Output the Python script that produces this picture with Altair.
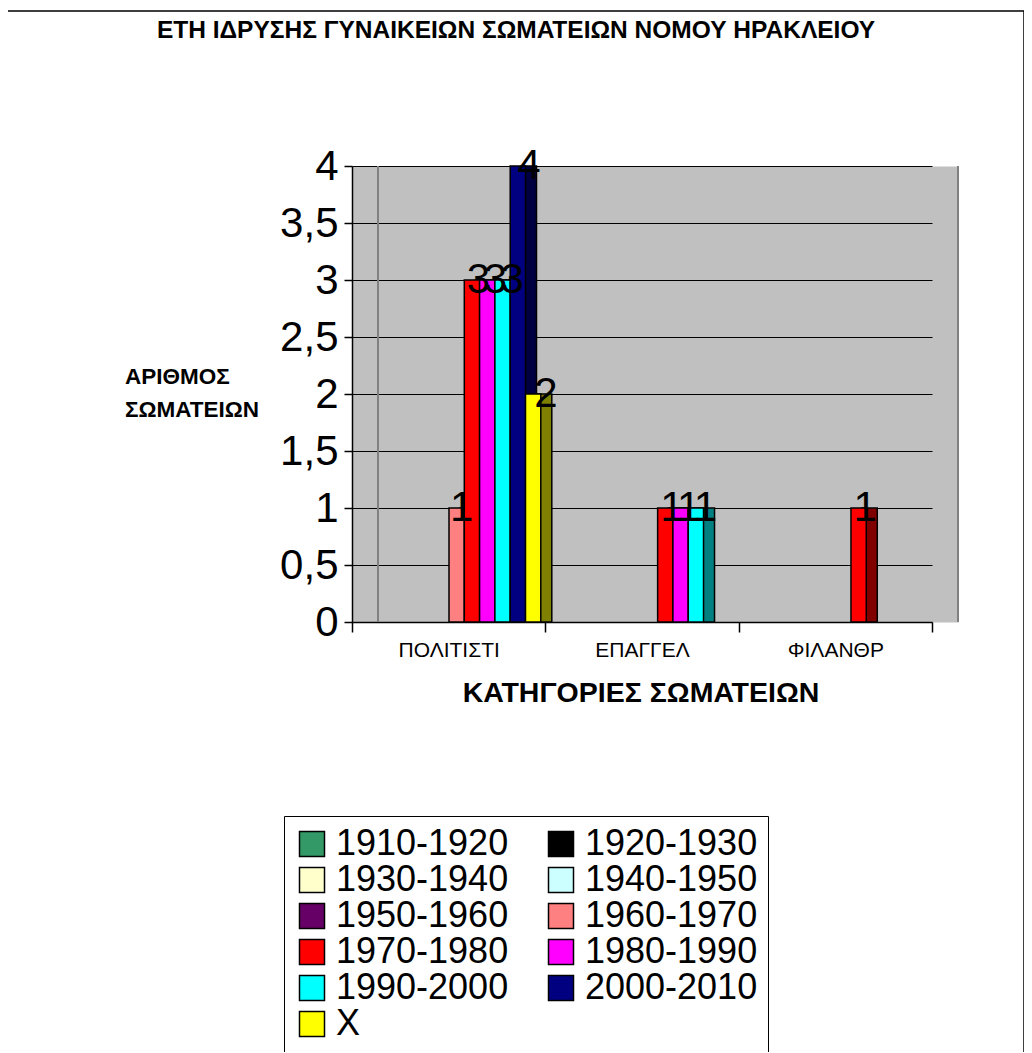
import altair as alt
import pandas as pd

FONT = "Liberation Sans"

title_text = "ΕΤΗ ΙΔΡΥΣΗΣ ΓΥΝΑΙΚΕΙΩΝ ΣΩΜΑΤΕΙΩΝ ΝΟΜΟΥ ΗΡΑΚΛΕΙΟΥ"
y_title = "ΑΡΙΘΜΟΣ\nΣΩΜΑΤΕΙΩΝ"
x_title = "ΚΑΤΗΓΟΡΙΕΣ ΣΩΜΑΤΕΙΩΝ"

categories = ["ΠΟΛΙΤΙΣΤΙ", "ΕΠΑΓΓΕΛ", "ΦΙΛΑΝΘΡ"]
series = ["1910-1920", "1920-1930", "1930-1940", "1940-1950", "1950-1960",
          "1960-1970", "1970-1980", "1980-1990", "1990-2000", "2000-2010", "X"]

# values of each series, per category
politisti = [0, 0, 0, 0, 0, 1, 3, 3, 3, 4, 2]
epaggel = [0, 0, 0, 0, 0, 0, 1, 1, 1, 0, 0]
filanthr = [0, 0, 0, 0, 0, 0, 1, 0, 0, 0, 0]

front_colors = ["#339966", "#000000", "#FFFFCC", "#CCFFFF", "#660066", "#FF8080",
                "#FF0000", "#FF00FF", "#00FFFF", "#000080", "#FFFF00"]
side_colors = ["#1A4D33", "#000000", "#808066", "#668080", "#330033", "#804040",
               "#800000", "#800080", "#008080", "#000040", "#808000"]

y_ticks = [0, 0.5, 1, 1.5, 2, 2.5, 3, 3.5, 4]

rows = []
for cat, vals in zip(categories, [politisti, epaggel, filanthr]):
    for s, v in zip(series, vals):
        rows.append({"cat": cat, "series": s, "value": v})
df = pd.DataFrame(rows)

W, H = 606, 456

x_enc = alt.X(
    "cat:N", sort=categories,
    scale=alt.Scale(domain=categories, range=[0, 580], paddingInner=0, paddingOuter=0),
    axis=alt.Axis(title=None, tickBand="extent", labelFontSize=21, labelFont=FONT,
                  labelColor="black", domainColor="black", tickColor="black",
                  tickSize=10, labelPadding=7, labelAngle=0, grid=False,
                  domainWidth=1.5, tickWidth=1.5),
)
y_enc = alt.Y(
    "value:Q",
    scale=alt.Scale(domain=[0, 4], nice=False, zero=True),
    axis=alt.Axis(title=None, values=y_ticks,
                  labelExpr="replace(format(datum.value, '~g'), '.', ',')",
                  labelFontSize=42, labelFont=FONT, labelColor="black",
                  tickSize=8, labelPadding=6, grid=True, gridColor="black",
                  gridWidth=1, domainColor="black", tickColor="black",
                  domainWidth=1.5, tickWidth=1.5),
)

front_off = alt.XOffset("series:N", sort=series,
                        scale=alt.Scale(domain=series, range=[20.5, 188.8],
                                        paddingInner=0, paddingOuter=0))
side_off = alt.XOffset("series:N", sort=series,
                       scale=alt.Scale(domain=series, range=[31.5, 199.8],
                                       paddingInner=0, paddingOuter=0))

base = alt.Chart(df).transform_filter("datum.value > 0")

side = base.mark_bar(stroke="black", strokeWidth=1.5, opacity=1).encode(
    x=x_enc, y=y_enc, xOffset=side_off,
    color=alt.Color("series:N", scale=alt.Scale(domain=series, range=side_colors), legend=None),
)

front = base.mark_bar(stroke="black", strokeWidth=1.5, opacity=1).encode(
    x=x_enc, y=y_enc, xOffset=front_off,
    color=alt.Color(
        "series:N",
        scale=alt.Scale(domain=series, range=front_colors),
        legend=alt.Legend(
            title=None, orient="none", legendX=-68, legendY=650, columns=2,
            direction="horizontal",
            symbolType="square", symbolSize=625, symbolStrokeColor="black",
            symbolStrokeWidth=1.5, symbolOpacity=1, labelFontSize=36, labelFont=FONT,
            labelColor="black", labelOffset=6, columnPadding=34, rowPadding=0,
            padding=10, strokeColor="black", fillColor="white", labelLimit=0,
        ),
    ),
)

labels = base.mark_text(fontSize=42, font=FONT, baseline="middle", dx=5, color="black").encode(
    x=x_enc, y=y_enc, xOffset=front_off,
    text=alt.Text("value:Q", format="d"),
)

one = pd.DataFrame({"t": [""]})
wall = alt.Chart(one).mark_rule(color="#808080", strokeWidth=2).encode(
    x=alt.value(26), y=alt.value(0), y2=alt.value(H))
right_edge = alt.Chart(one).mark_rule(color="#808080", strokeWidth=2).encode(
    x=alt.value(W), y=alt.value(0), y2=alt.value(H))
border = alt.Chart(one).mark_rect(filled=False, color="black", strokeWidth=1.5).encode(
    x=alt.value(-346), x2=alt.value(672), y=alt.value(-155), y2=alt.value(900))

t_main = alt.Chart(pd.DataFrame({"t": [title_text]})).mark_text(
    fontSize=24.5, fontWeight="bold", font=FONT, align="center", baseline="middle", color="black"
).encode(x=alt.value(164), y=alt.value(-135), text="t:N")
t_y = alt.Chart(pd.DataFrame({"t": [y_title]})).mark_text(
    fontSize=22.5, fontWeight="bold", font=FONT, align="left", baseline="middle",
    lineBreak="\n", lineHeight=33, color="black"
).encode(x=alt.value(-227), y=alt.value(211), text="t:N")
t_x = alt.Chart(pd.DataFrame({"t": [x_title]})).mark_text(
    fontSize=28.5, fontWeight="bold", font=FONT, align="center", baseline="middle", color="black"
).encode(x=alt.value(289), y=alt.value(527), text="t:N")

chart = alt.layer(
    side, front, labels, wall, right_edge, border, t_main, t_y, t_x
).resolve_scale(
    xOffset="independent", color="independent"
).properties(
    width=W, height=H,
    autosize=alt.AutoSizeParams(type="none"),
    padding={"left": 344, "top": 158, "right": 66, "bottom": 430},
).configure_view(
    stroke="transparent", fill="#C0C0C0"
)

chart.save("out.html", embed_options={"renderer": "svg", "actions": False})
